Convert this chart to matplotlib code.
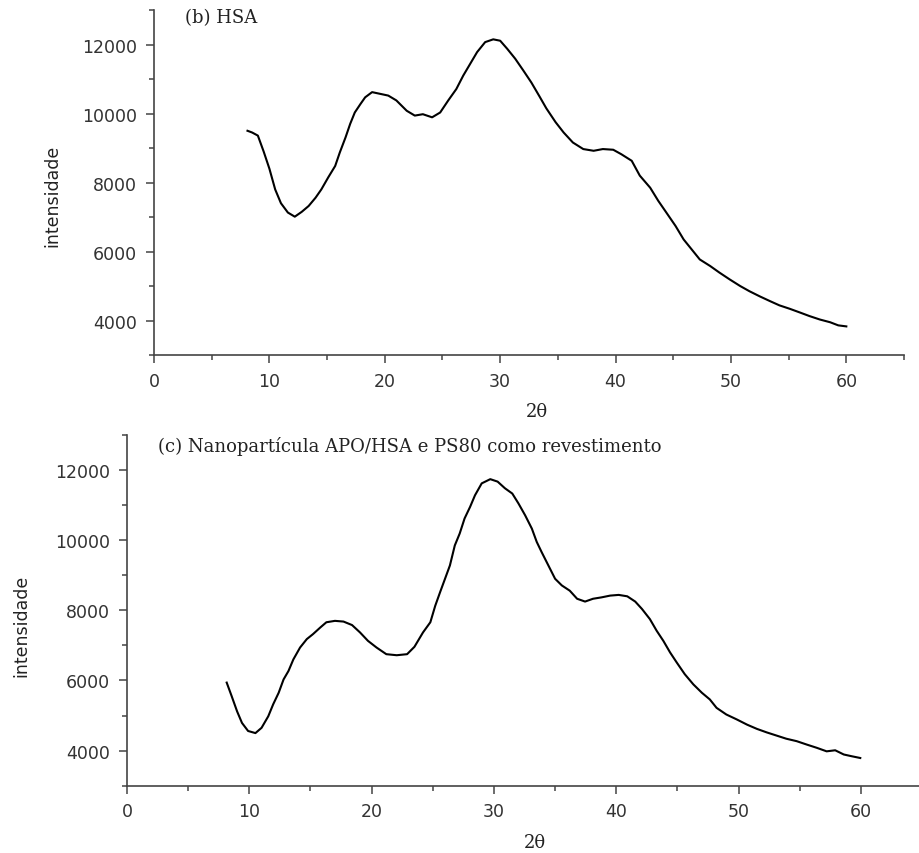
import numpy as np
import matplotlib
matplotlib.use("Agg")
import matplotlib.pyplot as plt
from matplotlib.ticker import MultipleLocator

# Difratogramas (b) HSA e (c) nanopartícula APO/HSA com PS80
hsa_2theta = [8.1, 8.5, 9.0, 9.5, 10.0, 10.5, 11.0, 11.6, 12.2, 12.8, 13.4, 14.0, 14.5,
              15.1, 15.7, 16.1, 16.6, 17.0, 17.4, 17.9, 18.3, 18.9, 19.6, 20.3, 21.0,
              21.9, 22.6, 23.3, 24.1, 24.8, 25.5, 26.2, 26.8, 27.4, 28.0, 28.7, 29.4,
              30.0, 30.6, 31.3, 32.0, 32.7, 33.4, 34.0, 34.8, 35.5, 36.3, 37.2, 38.1,
              38.9, 39.8, 40.5, 41.4, 42.1, 43.0, 43.7, 44.4, 45.2, 45.9, 46.6, 47.3,
              48.2, 49.0, 49.9, 50.8, 51.6, 52.5, 53.4, 54.2, 55.1, 56.0, 56.8, 57.7,
              58.6, 59.3, 60.0]
hsa_int = [9500, 9450, 9360, 8900, 8400, 7800, 7400, 7130, 7010, 7150, 7320, 7560, 7800,
           8150, 8480, 8870, 9310, 9700, 10030, 10280, 10470, 10620, 10570, 10520, 10380,
           10080, 9940, 9980, 9890, 10030, 10380, 10710, 11100, 11440, 11780, 12070, 12150,
           12110, 11880, 11590, 11250, 10900, 10500, 10150, 9750, 9450, 9160, 8970, 8920,
           8970, 8950, 8820, 8630, 8200, 7850, 7470, 7130, 6740, 6350, 6060, 5770,
           5580, 5390, 5190, 5000, 4850, 4700, 4560, 4440, 4340, 4230, 4130, 4030,
           3950, 3860, 3830]

nano_2theta = [8.15, 8.55, 9.0, 9.4, 9.9, 10.5, 11.0, 11.55, 11.95, 12.4, 12.8, 13.2, 13.6,
               14.15, 14.7, 15.2, 15.8, 16.3, 17.0, 17.7, 18.4, 19.05, 19.7, 20.4, 21.2,
               22.05, 22.9, 23.5, 24.2, 24.8, 25.2, 25.6, 26.0, 26.4, 26.8, 27.2, 27.6,
               28.05, 28.45, 29.0, 29.7, 30.3, 30.9, 31.5, 32.0, 32.55, 33.1, 33.5, 33.9,
               34.45, 35.0, 35.55, 36.2, 36.8, 37.45, 38.1, 38.8, 39.5, 40.2, 40.9, 41.55,
               42.1, 42.75, 43.3, 43.85, 44.4, 44.95, 45.6, 46.3, 47.0, 47.65, 48.2, 49.0,
               49.85, 50.7, 51.5, 52.3, 53.1, 53.9, 54.75, 55.6, 56.4, 57.2, 57.9, 58.6,
               59.25, 59.95]
nano_int = [5940, 5560, 5120, 4790, 4560, 4500, 4650, 4980, 5320, 5650, 6030, 6270, 6600,
            6940, 7180, 7320, 7510, 7660, 7700, 7680, 7580, 7370, 7130, 6940, 6750,
            6720, 6750, 6960, 7370, 7660, 8130, 8520, 8900, 9280, 9850, 10190, 10620,
            10950, 11280, 11620, 11740, 11670, 11480, 11330, 11050, 10710, 10330, 9950, 9660,
            9280, 8900, 8710, 8560, 8330, 8250, 8330, 8370, 8420, 8440, 8400, 8250,
            8040, 7750, 7420, 7130, 6800, 6510, 6180, 5890, 5650, 5460, 5220, 5030,
            4890, 4740, 4620, 4520, 4430, 4340, 4270, 4170, 4080, 3980, 4010, 3890,
            3840, 3790]

titles = ["(b) HSA", "(c) Nanopartícula APO/HSA e PS80 como revestimento"]

fig = plt.figure(figsize=(9.19, 8.54), dpi=100)
ax1 = fig.add_axes([0.1676, 0.5831, 0.8161, 0.4040])
ax2 = fig.add_axes([0.1382, 0.0788, 0.8651, 0.4107])

paineis = [(ax1, hsa_2theta, hsa_int, titles[0], 2.7, 12800, (0.511, -0.162), (-0.136, 0.464)),
           (ax2, nano_2theta, nano_int, titles[1], 2.5, 12700, (0.513, -0.160), (-0.133, 0.458))]

for ax, x, y, titulo, tx, ty, xl, yl in paineis:
    ax.plot(x, y, color="black", lw=1.5)
    ax.set_xlim(0, 65)
    ax.set_ylim(3000, 13000)
    ax.xaxis.set_major_locator(MultipleLocator(10))
    ax.xaxis.set_minor_locator(MultipleLocator(5))
    ax.yaxis.set_major_locator(MultipleLocator(2000))
    ax.yaxis.set_minor_locator(MultipleLocator(1000))
    ax.set_yticks([4000, 6000, 8000, 10000, 12000])
    for s in ["top", "right"]:
        ax.spines[s].set_visible(False)
    for s in ["left", "bottom"]:
        ax.spines[s].set_color("#444444")
        ax.spines[s].set_linewidth(1.2)
    ax.tick_params(which="major", direction="out", length=6, width=1.1, color="#444444",
                   labelsize=12.5, labelcolor="#333333", pad=6)
    ax.tick_params(which="minor", direction="out", length=3.5, width=1.1, color="#444444")
    ax.text(tx, ty, titulo, family="DejaVu Serif", fontsize=13, color="#222222", va="center")
    ax.set_xlabel("2θ", family="DejaVu Serif", fontsize=13, color="#222222")
    ax.xaxis.set_label_coords(*xl)
    ax.xaxis.label.set_va("center")
    ax.set_ylabel("intensidade", fontsize=12.5, color="#222222")
    ax.yaxis.set_label_coords(*yl)
    ax.yaxis.label.set_va("center")

fig.savefig("out.png", dpi=100, facecolor="white")
